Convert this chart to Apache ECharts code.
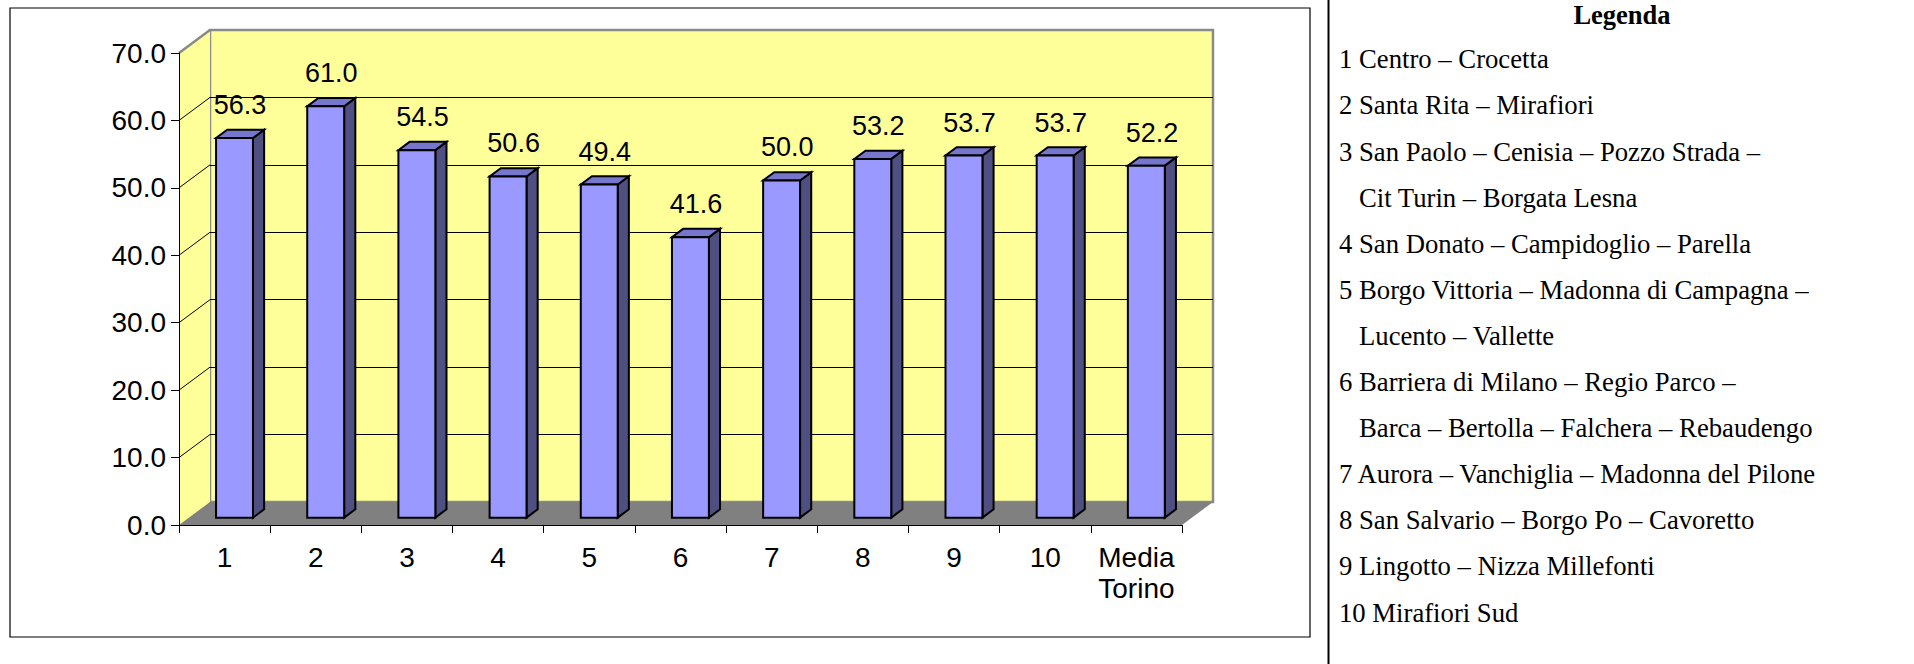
<!DOCTYPE html>
<html>
<head>
<meta charset="utf-8">
<title>Circoscrizioni di Torino</title>
<script src="https://cdn.jsdelivr.net/npm/echarts@6/dist/echarts.min.js"></script>
<style>
html, body { margin: 0; padding: 0; background: #ffffff; }
#chart { width: 1914px; height: 664px; }
</style>
</head>
<body>
<div id="chart"></div>
<script>
// Circoscrizioni sull'asse x e valore di ciascuna
const categories = ['1', '2', '3', '4', '5', '6', '7', '8', '9', '10', 'Media\nTorino'];
const values = [56.3, 61.0, 54.5, 50.6, 49.4, 41.6, 50.0, 53.2, 53.7, 53.7, 52.2];

// Scala dell'asse dei valori
const yMin = 0;
const yMax = 70;
const yStep = 10;

// Testo della legenda a destra (una riga per elemento interno)
const legendTitle = 'Legenda';
const legendEntries = [
  ['1 Centro – Crocetta'],
  ['2 Santa Rita – Mirafiori'],
  ['3 San Paolo – Cenisia – Pozzo Strada –', 'Cit Turin – Borgata Lesna'],
  ['4 San Donato – Campidoglio – Parella'],
  ['5 Borgo Vittoria – Madonna di Campagna –', 'Lucento – Vallette'],
  ['6 Barriera di Milano – Regio Parco –', 'Barca – Bertolla – Falchera – Rebaudengo'],
  ['7 Aurora – Vanchiglia – Madonna del Pilone'],
  ['8 San Salvario – Borgo Po – Cavoretto'],
  ['9 Lingotto – Nizza Millefonti'],
  ['10 Mirafiori Sud']
];

// Stile
const SANS = "'Liberation Sans', Arial, sans-serif";
const SERIF = "'Liberation Serif', 'Times New Roman', serif";
const WALL = '#FFFF99';
const EDGE = '#8A8A8A';
const FLOOR = '#808080';
const BAR_FRONT = '#9999FF';
const BAR_SIDE = '#4F4F82';
const BAR_TOP = '#7676CC';
const DX = 31;            // profondità della scatola 3D (px, orizzontale)
const DY = 23;            // profondità della scatola 3D (px, verticale)
const BAR_NEAR = 0.32;    // faccia anteriore della colonna, frazione della profondità
const BAR_FAR = 0.68;     // faccia posteriore della colonna
const BAR_WIDTH = 0.405;  // larghezza della colonna rispetto alla categoria
const LABEL_GAP = 33;     // distanza etichetta - sommità anteriore

const FRONT = { left: 179, top: 53, width: 1003, height: 472 };

// Parete laterale e pavimento della scatola 3D
function renderBox(params, api) {
  const band = api.size([1, 0])[0];
  const left = api.coord([0, yMin])[0] - band / 2;
  const right = api.coord([categories.length - 1, yMin])[0] + band / 2;
  const y0 = api.coord([0, yMin])[1];
  const yTop = api.coord([0, yMax])[1];
  const children = [];
  children.push({
    type: 'polygon',
    shape: { points: [[left, yTop], [left + DX, yTop - DY], [left + DX, y0 - DY], [left, y0]] },
    style: { fill: WALL }
  });
  for (let v = yMin + yStep; v < yMax; v += yStep) {
    const y = api.coord([0, v])[1];
    children.push({
      type: 'line',
      shape: { x1: left, y1: y, x2: left + DX, y2: y - DY },
      style: { stroke: '#000000', lineWidth: 1 }
    });
  }
  children.push({
    type: 'line',
    shape: { x1: left, y1: yTop, x2: left + DX, y2: yTop - DY },
    style: { stroke: EDGE, lineWidth: 2.5 }
  });
  children.push({
    type: 'polygon',
    shape: { points: [[left, y0], [right, y0], [right + DX, y0 - DY], [left + DX, y0 - DY]] },
    style: { fill: FLOOR }
  });
  return { type: 'group', children: children };
}

// Colonna 3D con etichetta del valore
function renderBar(params, api) {
  const idx = api.value(0);
  const v = api.value(1);
  const base = api.coord([idx, yMin]);
  const top = api.coord([idx, v]);
  const band = api.size([1, 0])[0];
  const w = band * BAR_WIDTH;
  const x0 = base[0] + BAR_NEAR * DX - w / 2;
  const x1 = x0 + w;
  const yb = base[1] - BAR_NEAR * DY;
  const yt = top[1] - BAR_NEAR * DY;
  const ddx = (BAR_FAR - BAR_NEAR) * DX;
  const ddy = (BAR_FAR - BAR_NEAR) * DY;
  const stroke = { stroke: '#000000', lineWidth: 2, lineJoin: 'miter' };
  return {
    type: 'group',
    children: [
      {
        type: 'polygon',
        shape: { points: [[x1, yt], [x1 + ddx, yt - ddy], [x1 + ddx, yb - ddy], [x1, yb]] },
        style: Object.assign({ fill: BAR_SIDE }, stroke)
      },
      {
        type: 'polygon',
        shape: { points: [[x0, yt], [x1, yt], [x1 + ddx, yt - ddy], [x0 + ddx, yt - ddy]] },
        style: Object.assign({ fill: BAR_TOP }, stroke)
      },
      {
        type: 'rect',
        shape: { x: x0, y: yt, width: w, height: yb - yt },
        style: Object.assign({ fill: BAR_FRONT }, stroke)
      },
      {
        type: 'text',
        style: {
          text: v.toFixed(1),
          x: (x0 + x1 + ddx) / 2,
          y: yt - LABEL_GAP,
          align: 'center',
          verticalAlign: 'middle',
          fontSize: 27,
          fontFamily: SANS,
          fill: '#000000'
        }
      }
    ]
  };
}

// Legenda: titolo e righe di testo
const legendGraphics = [
  {
    type: 'text',
    x: 1622,
    y: 15,
    style: {
      text: legendTitle,
      align: 'center',
      verticalAlign: 'middle',
      fontSize: 26.5,
      fontWeight: 'bold',
      fontFamily: SERIF,
      fill: '#000000'
    }
  }
];
let lineNo = 0;
legendEntries.forEach(function (lines) {
  lines.forEach(function (line, j) {
    legendGraphics.push({
      type: 'text',
      x: j === 0 ? 1339 : 1359,
      y: 59.3 + lineNo * 46.1,
      style: {
        text: line,
        align: 'left',
        verticalAlign: 'middle',
        fontSize: 26.7,
        fontFamily: SERIF,
        fill: '#000000'
      }
    });
    lineNo++;
  });
});

const chart = echarts.init(document.getElementById('chart'), null, { renderer: 'svg' });
chart.setOption({
  animation: false,
  backgroundColor: '#ffffff',
  grid: [
    Object.assign({ show: false, outerBoundsMode: 'none', containLabel: false }, FRONT),
    {
      show: true,
      outerBoundsMode: 'none',
      containLabel: false,
      left: FRONT.left + DX,
      top: FRONT.top - DY,
      width: FRONT.width,
      height: FRONT.height,
      backgroundColor: WALL,
      borderColor: EDGE,
      borderWidth: 2.5
    }
  ],
  xAxis: [
    {
      gridIndex: 0,
      type: 'category',
      data: categories,
      boundaryGap: true,
      z: 10,
      axisLine: { show: true, lineStyle: { color: '#000000', width: 1 } },
      axisTick: { show: true, interval: 0, length: 8, lineStyle: { color: '#000000', width: 1 } },
      axisLabel: {
        interval: 0,
        margin: 17,
        fontSize: 28,
        lineHeight: 31,
        fontFamily: SANS,
        color: '#000000'
      },
      splitLine: { show: false }
    },
    {
      gridIndex: 1,
      type: 'category',
      data: categories,
      show: false
    }
  ],
  yAxis: [
    {
      gridIndex: 0,
      type: 'value',
      min: yMin,
      max: yMax,
      interval: yStep,
      z: 10,
      axisLine: { show: true, lineStyle: { color: '#000000', width: 1 } },
      axisTick: { show: true, length: 8, lineStyle: { color: '#000000', width: 1 } },
      axisLabel: {
        margin: 13,
        fontSize: 28,
        fontFamily: SANS,
        color: '#000000',
        formatter: function (v) { return v.toFixed(1); }
      },
      splitLine: { show: false }
    },
    {
      gridIndex: 1,
      type: 'value',
      min: yMin,
      max: yMax,
      interval: yStep,
      axisLine: { show: false },
      axisTick: { show: false },
      axisLabel: { show: false },
      splitLine: {
        show: true,
        showMinLine: false,
        showMaxLine: false,
        lineStyle: { color: '#000000', width: 1 }
      }
    }
  ],
  series: [
    {
      type: 'custom',
      xAxisIndex: 0,
      yAxisIndex: 0,
      z: 1,
      silent: true,
      clip: false,
      renderItem: renderBox,
      data: [[0, yMin]]
    },
    {
      type: 'custom',
      xAxisIndex: 0,
      yAxisIndex: 0,
      z: 3,
      clip: false,
      renderItem: renderBar,
      encode: { x: 0, y: 1 },
      data: values.map(function (v, i) { return [i, v]; })
    }
  ],
  graphic: [
    {
      type: 'rect',
      shape: { x: 10, y: 8, width: 1300, height: 629 },
      style: { fill: 'none', stroke: '#000000', lineWidth: 1.2 },
      z: 0
    },
    {
      type: 'line',
      shape: { x1: 1328.5, y1: 0, x2: 1328.5, y2: 664 },
      style: { stroke: '#000000', lineWidth: 2 }
    }
  ].concat(legendGraphics)
});
</script>
</body>
</html>
